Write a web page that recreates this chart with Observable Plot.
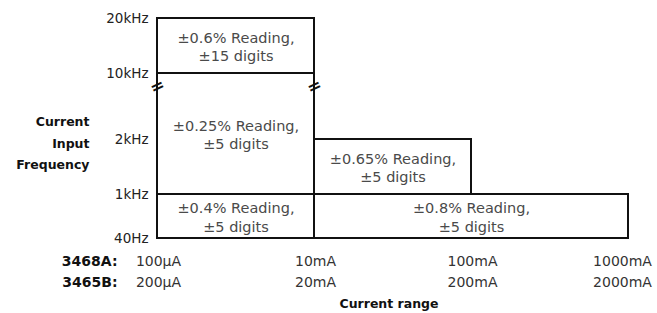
<!DOCTYPE html>
<html>
<head>
<meta charset="utf-8">
<script src="https://cdn.jsdelivr.net/npm/d3@7"></script>
<script src="https://cdn.jsdelivr.net/npm/@observablehq/plot@0.6"></script>
<style>
  html, body { margin: 0; padding: 0; background: #fff; }
  svg { display: block; }
</style>
</head>
<body>
<script>
// Frequency levels (schematic axis, non-uniform spacing as in the picture)
const freqLabels = ["40Hz", "1kHz", "2kHz", "10kHz", "20kHz"];
const freqLevels = [0, 0.8, 1.8, 3, 4];
// Current ranges for the two models (index 0..3 along x)
const rangeA = ["100µA", "10mA", "100mA", "1000mA"];
const rangeB = ["200µA", "20mA", "200mA", "2000mA"];
const models = ["3468A:", "3465B:"];
// Accuracy regions
const boxAccuracy = ["±0.6% Reading,", "±0.25% Reading,", "±0.65% Reading,", "±0.4% Reading,", "±0.8% Reading,"];
const boxDigits = ["±15 digits", "±5 digits", "±5 digits", "±5 digits", "±5 digits"];
const boxRangeFrom = [0, 0, 1, 0, 1];
const boxRangeTo = [1, 1, 2, 1, 3];
const boxFreqFrom = ["10kHz", "1kHz", "1kHz", "40Hz", "40Hz"];
const boxFreqTo = ["20kHz", "10kHz", "2kHz", "1kHz", "1kHz"];
// Axis break at 10kHz drawn on these range boundaries
const breakRanges = [0, 1];
const breakFreq = "10kHz";

const lvl = f => freqLevels[freqLabels.indexOf(f)];
const boxes = boxAccuracy.map((a, i) => ({
  x1: boxRangeFrom[i], x2: boxRangeTo[i],
  y1: lvl(boxFreqFrom[i]), y2: lvl(boxFreqTo[i]),
  label: a + "\n" + boxDigits[i]
}));
const ranges = rangeA.map((a, i) => ({i, a, b: rangeB[i]}));
const last = ranges.length - 1;

const font = "'DejaVu Sans', sans-serif";
const tickStyle = {fontSize: 14, fill: "#333", frameAnchor: "bottom"};

const chart = Plot.plot({
  width: 657,
  height: 313,
  marginLeft: 157,
  marginRight: 29,
  marginTop: 18,
  marginBottom: 75,
  style: {fontFamily: font, background: "#fff", color: "#222"},
  x: {domain: [0, 3], axis: null},
  y: {domain: [0, 4]},
  marks: [
    Plot.axisY({
      ticks: freqLevels,
      tickFormat: v => freqLabels[freqLevels.indexOf(v)],
      tickSize: 0,
      tickPadding: 9,
      fontSize: 13.5,
      label: null
    }),
    Plot.rect(boxes, {x1: "x1", x2: "x2", y1: "y1", y2: "y2", fill: "#fff", stroke: "#111", strokeWidth: 2}),
    Plot.text(breakRanges, {
      x: d => d, y: () => lvl(breakFreq), text: () => "=",
      dy: 13, rotate: -25, fontSize: 17, fontWeight: "bold", fill: "#111"
    }),
    Plot.text(boxes, {
      x: d => (d.x1 + d.x2) / 2, y: d => (d.y1 + d.y2) / 2,
      text: "label", fontSize: 14.5, lineHeight: 1.3, fill: "#4a4a4a"
    }),
    // x tick labels, two rows (one per model)
    Plot.text(ranges, {...tickStyle, filter: d => d.i < last, x: "i", text: "a", dx: 1, dy: 27}),
    Plot.text(ranges, {...tickStyle, filter: d => d.i < last, x: "i", text: "b", dx: 1, dy: 48}),
    Plot.text(ranges, {...tickStyle, filter: d => d.i === last, x: "i", text: "a", dx: -6, dy: 27}),
    Plot.text(ranges, {...tickStyle, filter: d => d.i === last, x: "i", text: "b", dx: -6, dy: 48}),
    Plot.text([models[0]], {text: d => d, frameAnchor: "bottom-left", dx: -40, dy: 27, textAnchor: "end", fontSize: 14, fontWeight: "bold", fill: "#111"}),
    Plot.text([models[1]], {text: d => d, frameAnchor: "bottom-left", dx: -40, dy: 48, textAnchor: "end", fontSize: 14, fontWeight: "bold", fill: "#111"}),
    Plot.text(["Current range"], {text: d => d, frameAnchor: "bottom", dx: -4, dy: 69, fontSize: 12.5, fontWeight: "bold", fill: "#111"}),
    Plot.text(["Current\nInput\nFrequency"], {text: d => d, frameAnchor: "left", dx: -68, dy: 12, textAnchor: "end", lineHeight: 1.75, fontSize: 12.5, fontWeight: "bold", fill: "#111"})
  ]
});
document.body.appendChild(chart);
</script>
</body>
</html>
